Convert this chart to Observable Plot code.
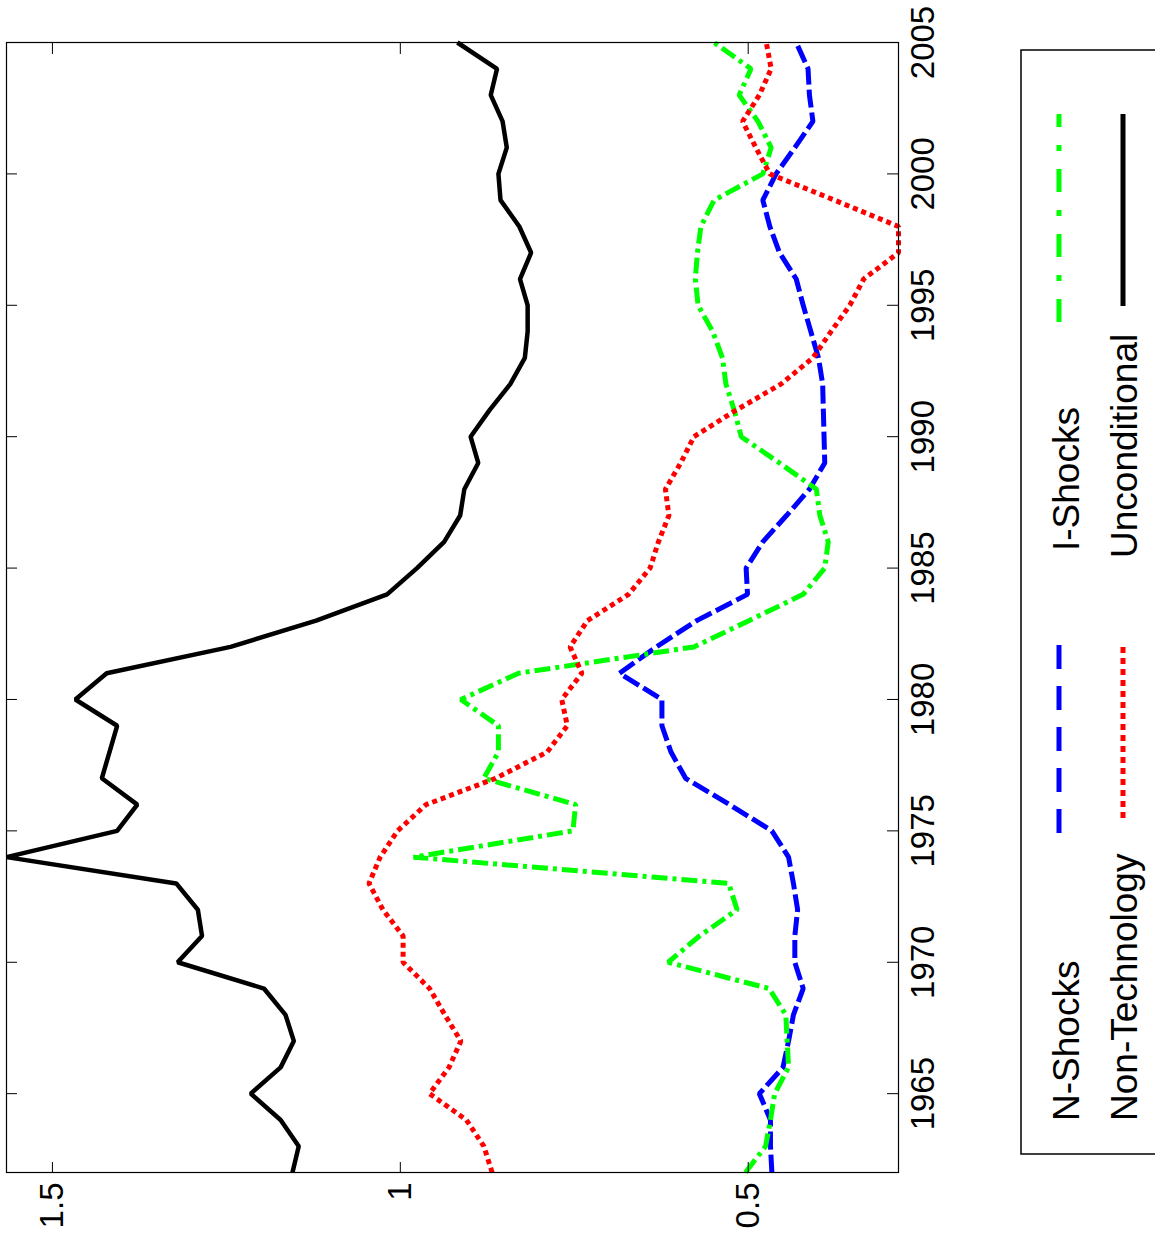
<!DOCTYPE html>
<html>
<head>
<meta charset="utf-8">
<script src="https://cdn.jsdelivr.net/npm/d3@7"></script>
<script src="https://cdn.jsdelivr.net/npm/@observablehq/plot@0.6"></script>
<style>
html, body { margin: 0; padding: 0; overflow: hidden; background: #fff; width: 1155px; height: 1239px; }
#rot {
  position: absolute; left: 0; top: 0; width: 1239px; height: 1155px;
  transform-origin: 0 0; transform: translate(0px, 1239px) rotate(-90deg);
  overflow: hidden; background: #fff;
  font-family: "Liberation Sans", Arial, Helvetica, sans-serif;
}
#chart { position: absolute; left: 0; top: 0; }
#legend { position: absolute; left: 0; top: 0; }
</style>
</head>
<body>
<div id="rot"><div id="chart"></div><svg id="legend" width="1239" height="1155"></svg></div>
<script>
// ---- data ----
const years = [1962,1963,1964,1965,1966,1967,1968,1969,1970,1971,1972,1973,1974,1975,1976,1977,1978,1979,1980,1981,1982,1983,1984,1985,1986,1987,1988,1989,1990,1991,1992,1993,1994,1995,1996,1997,1998,1999,2000,2001,2002,2003,2004,2005];

const nShocks = [0.466,0.468,0.468,0.484,0.450,0.442,0.435,0.421,0.433,0.433,0.429,0.435,0.442,0.466,0.527,0.590,0.611,0.624,0.624,0.685,0.632,0.574,0.501,0.503,0.479,0.445,0.412,0.390,0.391,0.392,0.393,0.399,0.410,0.421,0.431,0.455,0.469,0.479,0.460,0.433,0.407,0.412,0.414,0.431];

const iShocks = [0.504,0.475,0.468,0.462,0.442,0.444,0.446,0.470,0.615,0.570,0.516,0.528,0.981,0.752,0.748,0.880,0.859,0.859,0.913,0.830,0.578,0.499,0.421,0.390,0.385,0.397,0.402,0.455,0.510,0.520,0.532,0.537,0.551,0.572,0.576,0.573,0.568,0.549,0.479,0.467,0.486,0.513,0.496,0.549];

const nonTech = [0.868,0.880,0.905,0.958,0.930,0.913,0.936,0.958,0.996,0.996,1.025,1.045,1.029,1.004,0.963,0.863,0.789,0.760,0.768,0.739,0.756,0.731,0.672,0.641,0.629,0.614,0.619,0.597,0.578,0.518,0.453,0.407,0.381,0.354,0.334,0.284,0.284,0.376,0.469,0.489,0.508,0.484,0.467,0.474];

const uncond = [1.155,1.146,1.172,1.215,1.172,1.153,1.165,1.196,1.320,1.285,1.291,1.322,1.566,1.407,1.378,1.429,1.418,1.407,1.467,1.422,1.244,1.121,1.019,0.976,0.937,0.914,0.908,0.888,0.899,0.872,0.842,0.821,0.817,0.817,0.828,0.812,0.829,0.856,0.859,0.847,0.853,0.870,0.861,0.918];

const seriesNames = ["N-Shocks", "I-Shocks", "Non-Technology", "Unconditional"];
const seriesValues = [nShocks, iShocks, nonTech, uncond];
const seriesColors = ["#0000ff", "#00ff00", "#ff0000", "#000000"];
const seriesDash = ["18,5", "16,5,4,5", "5,4", null];
const legendDash = ["24,17", "23,18,6,18", "6,5", null];

const yearTicks = [1965, 1970, 1975, 1980, 1985, 1990, 1995, 2000, 2005];
const valueTicks = [0.5, 1, 1.5];

// ---- layout (landscape; whole figure is rotated -90deg) ----
const W = 1239, H = 1000;
const mL = 66, mR = 43, mT = 6, mB = 102;
const innerW = W - mL - mR, innerH = H - mT - mB;
const tickLen = 11;

const allVals = seriesValues.flat();
const yDomain = d3.extent(allVals);

const lineMarks = seriesNames.map((name, i) => {
  const rows = years.map((yr, j) => ({year: yr, value: seriesValues[i][j]}));
  return Plot.line(rows, {
    x: "year", y: "value",
    stroke: seriesColors[i], strokeWidth: i === 3 ? 4.5 : 5,
    strokeDasharray: seriesDash[i] || undefined,
    strokeLinecap: "butt", strokeLinejoin: "miter"
  });
});

const chart = Plot.plot({
  width: W, height: H,
  marginLeft: mL, marginRight: mR, marginTop: mT, marginBottom: mB,
  style: {fontFamily: "'Liberation Sans', Arial, Helvetica, sans-serif", background: "#fff", color: "#000"},
  x: {domain: [1962, 2005]},
  y: {domain: yDomain},
  marks: [
    ...lineMarks,
    Plot.ruleX(yearTicks, {x: d => d, insetTop: innerH - tickLen, stroke: "#000", strokeWidth: 1}),
    Plot.ruleX(yearTicks, {x: d => d, insetBottom: innerH - tickLen, stroke: "#000", strokeWidth: 1}),
    Plot.ruleY(valueTicks, {y: d => d, insetRight: innerW - tickLen, stroke: "#000", strokeWidth: 1}),
    Plot.ruleY(valueTicks, {y: d => d, insetLeft: innerW - tickLen, stroke: "#000", strokeWidth: 1}),
    Plot.axisX(yearTicks, {anchor: "bottom", tickSize: 0, tickPadding: 12, fontSize: 33, tickFormat: d => String(d), label: null}),
    Plot.axisY(valueTicks, {anchor: "left", tickSize: 0, tickPadding: 10, fontSize: 33, tickFormat: d => String(d), label: null}),
    Plot.frame({stroke: "#000", strokeWidth: 1.2})
  ]
});
document.getElementById("chart").appendChild(chart);

// ---- legend (box, labels, line samples) ----
const lg = d3.select("#legend");
lg.append("rect").attr("x", 85).attr("y", 1021).attr("width", 1104).attr("height", 200)
  .attr("fill", "#fff").attr("stroke", "#000").attr("stroke-width", 1.5);

// positions for each entry: [textX, baselineY, lineX1, lineX2, lineY]
const legendPos = [
  [118, 1079, 406, 597, 1059],
  [688, 1079, 917, 1125, 1059],
  [118, 1137, 421, 597, 1123],
  [681, 1137, 933, 1125, 1123]
];
seriesNames.forEach((name, i) => {
  const p = legendPos[i];
  lg.append("text").attr("x", p[0]).attr("y", p[1])
    .attr("font-size", 37).attr("font-family", "'Liberation Sans', Arial, Helvetica, sans-serif")
    .attr("fill", "#000").text(name);
  lg.append("line").attr("x1", p[2]).attr("x2", p[3]).attr("y1", p[4]).attr("y2", p[4])
    .attr("stroke", seriesColors[i]).attr("stroke-width", 5)
    .attr("stroke-dasharray", legendDash[i] || null);
});
</script>
</body>
</html>
